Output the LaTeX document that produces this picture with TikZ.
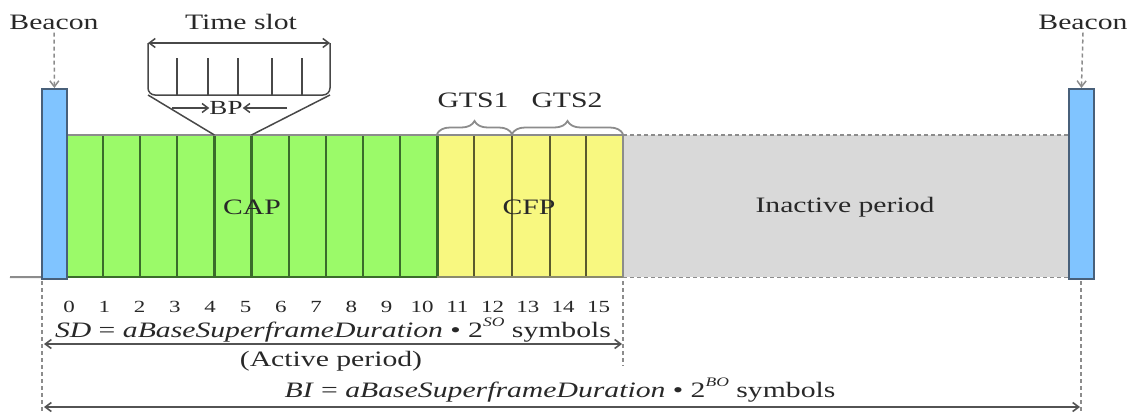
\documentclass[tikz,border=0pt]{standalone}
\usepackage{fontspec}
\setmainfont{Liberation Serif}[FakeStretch=1.35]
\usetikzlibrary{arrows.meta,decorations.pathreplacing}

\definecolor{capgreen}{RGB}{155,250,105}
\definecolor{cfpyellow}{RGB}{248,248,128}
\definecolor{idlegray}{RGB}{217,217,217}
\definecolor{beaconblue}{RGB}{128,196,255}
\definecolor{beaconedge}{RGB}{72,96,122}
\definecolor{slotline}{RGB}{58,108,42}
\definecolor{cfpline}{RGB}{90,90,45}
\definecolor{ink}{RGB}{40,40,40}
\definecolor{rule}{RGB}{140,140,140}

\tikzset{
  lbl/.style={text=ink, inner sep=0pt, font=\fontsize{22}{25}\selectfont},
  numlbl/.style={text=ink, inner sep=0pt, font=\fontsize{17}{19}\selectfont},
  beaconbox/.style={draw=beaconedge, fill=beaconblue, line width=1.8pt,
    minimum width=25pt, minimum height=190pt, inner sep=0pt, anchor=north west},
  periodbox/.style={inner sep=0pt, anchor=north west, minimum height=142pt},
  capline/.style={draw=slotline, line width=2.2pt},
  cfpsep/.style={draw=cfpline, line width=2.2pt},
  guide/.style={draw=rule, line width=1.5pt, dash pattern=on 4pt off 3pt},
  barb/.style={-{Straight Barb[length=6pt,width=9pt]}},
  dimline/.style={draw=ink!80, line width=1.6pt},
  zoomline/.style={draw=ink!85, line width=1.5pt},
}

\begin{document}
\begin{tikzpicture}[x=1pt, y=-1pt]
  \useasboundingbox (0,0) rectangle (1131,415);

  % --- periods of the superframe ---
  \node[periodbox, fill=capgreen, minimum width=371pt] (cap) at (66,135) {};
  \node[periodbox, fill=cfpyellow, minimum width=186pt] (cfp) at (437,135) {};
  \node[periodbox, fill=idlegray, minimum width=445pt] (idle) at (623,135) {};

  % slot separators
  \foreach \k in {1,...,9}
    \draw[capline] ({66+37.1*\k},135) -- ({66+37.1*\k},277);
  \draw[capline] (cap.north east) -- (cap.south east);
  \foreach \x in {474,512,550,586}
    \draw[cfpsep] (\x,135) -- (\x,277);
  \draw[draw=rule, line width=2pt] (cap.north west) -- (cfp.north east) -- (cfp.south east);
  \draw[draw=slotline, line width=2pt] (cap.south west) -- (cap.south east);
  \draw[draw=cfpline!70, line width=2pt] (cfp.south west) -- (cfp.south east);

  % inactive period borders
  \draw[guide] (idle.north west) -- (idle.north east);
  \draw[guide] (idle.south west) -- (idle.south east);

  % time axis
  \coordinate (axis0) at (10,277);
  \draw[draw=rule, line width=2pt] (axis0) -- (cap.south west);

  % --- beacons ---
  \node[beaconbox] (b1) at (41,88) {};
  \node[beaconbox] (b2) at (1068,88) {};
  \node[lbl] (bl1) at (54,22) {Beacon};
  \node[lbl] (bl2) at (1083,22) {Beacon};
  \draw[guide, barb] (bl1.south) ++(0,3) -- (b1.north);
  \draw[guide, barb] (bl2.south) ++(0,3) -- (b2.north);

  % period names
  \node[lbl] (capt) at (252,207) {CAP};
  \node[lbl] (cfpt) at (529,207) {CFP};
  \node[lbl] (idlet) at (845,207) {Inactive period};

  % --- magnified time slot ---
  \node[lbl] (ts) at (241,22) {Time slot};
  \coordinate (mL) at (148,43);
  \coordinate (mR) at (330,43);
  \coordinate (mBL) at (148,95);
  \coordinate (mBR) at (330,95);
  \draw[zoomline, rounded corners=7pt] (mL) -- (mBL) -- (mBR) -- (mR);
  \draw[zoomline, {Straight Barb[length=6pt,width=9pt]}-{Straight Barb[length=6pt,width=9pt]}] (mL) -- (mR);
  \foreach \x in {177,208,238,272,302}
    \draw[zoomline] (\x,58) -- (\x,95);
  \coordinate (s4L) at ({66+37.1*4},135);
  \coordinate (s4R) at ({66+37.1*5},135);
  \draw[zoomline] (mBL) -- (s4L);
  \draw[zoomline] (mBR) -- (s4R);

  \node[text=ink, inner sep=0pt, font=\fontsize{20}{22}\selectfont] (bp) at (226,108) {BP};
  \coordinate (bpL) at (172,108);
  \coordinate (bpR) at (287,108);
  \draw[zoomline, barb] (bpL) -- (bp.west);
  \draw[zoomline, barb] (bpR) -- (bp.east);

  % --- guaranteed time slots ---
  \draw[draw=rule, line width=1.8pt, decorate, decoration={brace, amplitude=13pt}]
    (cfp.north west) ++(0,-1) -- (512,134);
  \draw[draw=rule, line width=1.8pt, decorate, decoration={brace, amplitude=13pt}]
    (512,134) -- (623,134);
  \node[lbl] (gts1) at (473,100) {GTS1};
  \node[lbl] (gts2) at (567,100) {GTS2};

  % --- slot numbers ---
  \foreach \k in {0,...,15}
    \node[numlbl] (n\k) at ({69+35.3*\k},307) {\k};

  % --- durations ---
  \coordinate (gL0) at (42,281);
  \coordinate (gL1) at (42,412);
  \coordinate (gM0) at (623,281);
  \coordinate (gM1) at (623,366);
  \coordinate (gR0) at (1081,281);
  \coordinate (gR1) at (1081,412);
  \draw[guide] (gL0) -- (gL1);
  \draw[guide] (gM0) -- (gM1);
  \draw[guide] (gR0) -- (gR1);

  \coordinate (sdL) at (44,344);
  \coordinate (sdR) at (622,344);
  \draw[dimline, {Straight Barb[length=6pt,width=9pt]}-{Straight Barb[length=6pt,width=9pt]}] (sdL) -- (sdR);
  \node[lbl] (sd) at (333,330)
    {\textit{SD} = \textit{aBaseSuperframeDuration} \textbullet\ 2\raisebox{1.1ex}{\fontsize{13}{13}\selectfont\textit{SO}} symbols};
  \node[lbl] (act) at (331,361) {(Active period)};

  \coordinate (biL) at (44,407);
  \coordinate (biR) at (1080,407);
  \draw[dimline, {Straight Barb[length=6pt,width=9pt]}-{Straight Barb[length=6pt,width=9pt]}] (biL) -- (biR);
  \node[lbl] (bi) at (560,390)
    {\textit{BI} = \textit{aBaseSuperframeDuration} \textbullet\ 2\raisebox{1.1ex}{\fontsize{13}{13}\selectfont\textit{BO}} symbols};
\end{tikzpicture}
\end{document}
